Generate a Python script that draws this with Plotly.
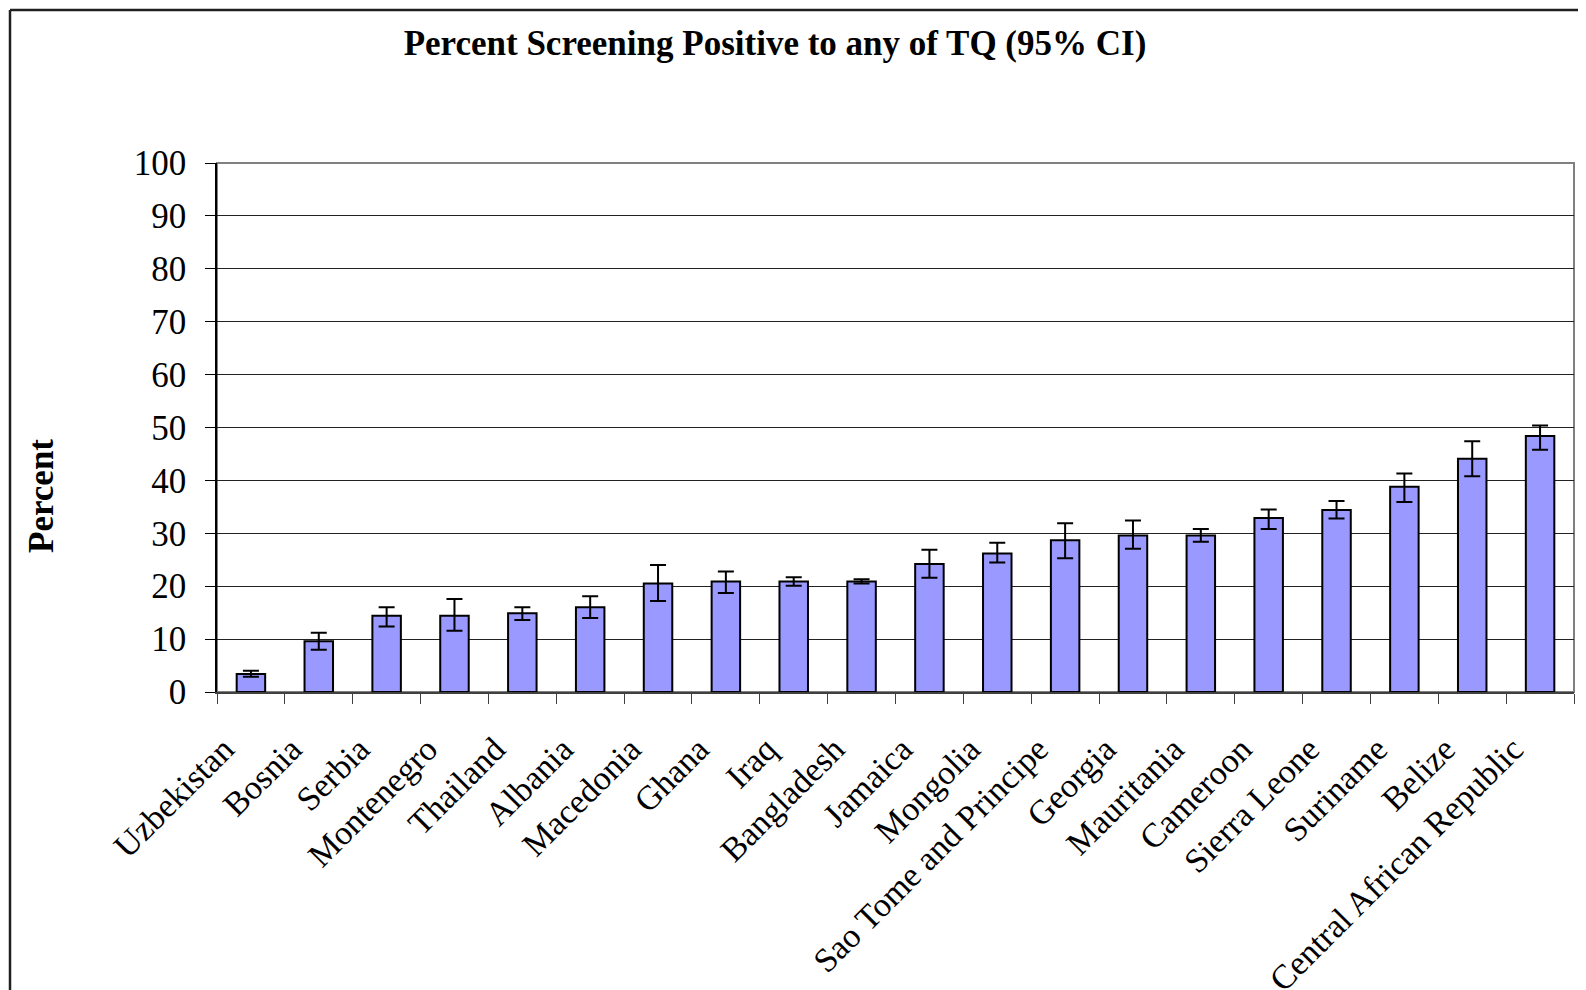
import plotly.graph_objects as go

countries = ["Uzbekistan", "Bosnia", "Serbia", "Montenegro", "Thailand", "Albania",
             "Macedonia", "Ghana", "Iraq", "Bangladesh", "Jamaica", "Mongolia",
             "Sao Tome and Principe", "Georgia", "Mauritania", "Cameroon",
             "Sierra Leone", "Suriname", "Belize", "Central African Republic"]
percent = [3.4, 9.6, 14.4, 14.4, 14.9, 16.0, 20.5, 20.9, 20.9, 20.9,
           24.2, 26.2, 28.7, 29.6, 29.6, 32.9, 34.4, 38.8, 44.1, 48.4]
ci_upper = [4.0, 11.2, 16.0, 17.6, 16.0, 18.1, 24.0, 22.8, 21.7, 21.3,
            26.9, 28.2, 31.9, 32.4, 30.8, 34.5, 36.1, 41.3, 47.4, 50.4]
ci_lower = [2.9, 8.0, 12.4, 11.6, 13.6, 14.0, 17.2, 18.7, 20.1, 20.5,
            21.6, 24.5, 25.3, 27.1, 28.4, 30.8, 32.8, 35.9, 40.8, 45.8]
y_ticks = [0, 10, 20, 30, 40, 50, 60, 70, 80, 90, 100]

err_plus = [u - v for u, v in zip(ci_upper, percent)]
err_minus = [v - l for v, l in zip(percent, ci_lower)]

W, H = 1586, 990
L, R, T, B = 209, 1566, 155, 684

def px_x(p):
    return (p - L) / (R - L)

def px_y(p):
    return (B - p) / (B - T)

serif = "Liberation Serif, Times New Roman, serif"

fig = go.Figure()
fig.add_trace(go.Bar(
    x=countries, y=percent,
    marker=dict(color="#9999FF", line=dict(color="black", width=2)),
    error_y=dict(type="data", symmetric=False, array=err_plus, arrayminus=err_minus,
                 color="black", thickness=2, width=8),
    showlegend=False,
))

fig.update_layout(
    width=W, height=H,
    margin=dict(l=L, r=W - R, t=T, b=H - B, pad=0, autoexpand=False),
    paper_bgcolor="white", plot_bgcolor="white",
    bargap=0.58,
    title=dict(text="<b>Percent Screening Positive to any of TQ (95% CI)</b>",
               x=767 / W, xanchor="center", xref="container",
               y=1 - 35 / H, yanchor="middle", yref="container",
               font=dict(family=serif, size=35, color="black")),
    font=dict(family=serif, color="black"),
    xaxis=dict(type="category", tickangle=-45, tickson="boundaries", automargin=False,
               ticks="outside", ticklen=10, tickcolor="#404040", tickwidth=1,
               showline=True, linecolor="#404040", linewidth=1.5,
               ticklabelstandoff=22, ticklabelshift=-27,
               showgrid=False, tickfont=dict(family=serif, size=34, color="black")),
    yaxis=dict(range=[0, 100], tickvals=y_ticks, ticks="outside", ticklen=10,
               automargin=False,
               tickcolor="black", tickwidth=1,
               showline=True, linecolor="black", linewidth=1.5,
               ticklabelstandoff=12,
               showgrid=True, gridcolor="#222222", gridwidth=1, zeroline=False,
               tickfont=dict(family=serif, size=35, color="black")),
    annotations=[dict(text="<b>Percent</b>", xref="paper", yref="paper",
                      x=px_x(33), y=px_y(488), textangle=-90, showarrow=False,
                      xanchor="center", yanchor="middle",
                      font=dict(family=serif, size=35, color="black"))],
    shapes=[
        dict(type="rect", xref="paper", yref="paper", x0=0, x1=1, y0=0, y1=1,
             line=dict(color="#808080", width=2), layer="below"),
        dict(type="line", xref="paper", yref="paper",
             x0=px_x(2), x1=px_x(W), y0=px_y(2), y1=px_y(2),
             line=dict(color="#202020", width=2.5), layer="below"),
        dict(type="line", xref="paper", yref="paper",
             x0=px_x(2), x1=px_x(2), y0=px_y(2), y1=px_y(H),
             line=dict(color="#202020", width=2.5), layer="below"),
    ],
)

fig.write_html("out.html")
